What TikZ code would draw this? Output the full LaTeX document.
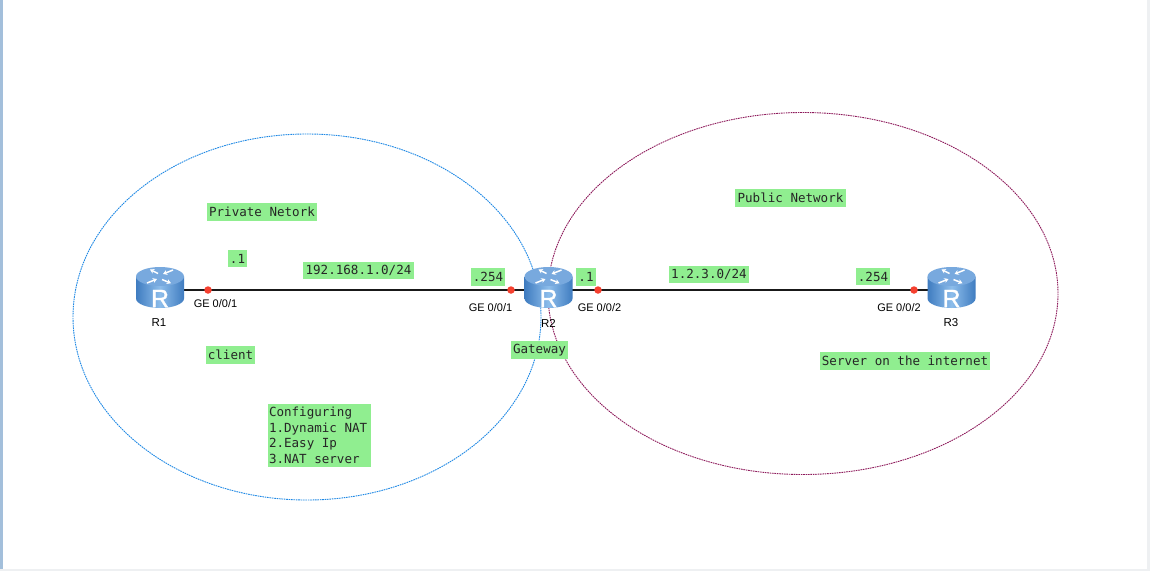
\documentclass[tikz,border=0pt]{standalone}
\usepackage{fontspec}
\setmainfont{Liberation Sans}
\newfontfamily\labelmono{DejaVu Sans Mono}
\newfontfamily\routerletterfont[FakeBold=1.2]{Liberation Sans}
\usetikzlibrary{arrows.meta}
\definecolor{tagfill}{HTML}{90EE90}
\definecolor{privline}{HTML}{1E88E5}
\definecolor{publine}{HTML}{8E1B5C}
\definecolor{edgeblue}{HTML}{A3BFDB}
\definecolor{edgegrey}{HTML}{EEF0F2}
\definecolor{routerdark}{HTML}{3F7CC0}
\definecolor{routermid}{HTML}{8DBDEB}
\definecolor{routertop}{HTML}{78A9DE}
\definecolor{dotred}{HTML}{F5402F}
\newcommand{\tagfont}{\labelmono\fontsize{12.55}{15.5}\selectfont\spaceskip=0.602em\relax}
\tikzset{
  x=1pt,y=-1pt,
  tag/.style={fill=tagfill,inner sep=0pt,font=\tagfont,text=black!85},
  portlabel/.style={inner sep=0pt,font=\fontsize{11}{13}\selectfont,text=black},
  namelabel/.style={inner sep=0pt,font=\fontsize{11.5}{13}\selectfont,text=black},
  zone/.style={line width=0.9pt,dash pattern=on 1.6pt off 0.8pt},
  link/.style={line width=2pt,black!90},
  portdot/.style={circle,fill=dotred,minimum size=7.5pt,inner sep=0pt},
  routerbox/.style={minimum width=48pt,minimum height=42pt,inner sep=0pt},
  routerarrow/.style={white,line width=1.5pt,-{Stealth[length=4.2pt,width=5pt]}},
  pics/routericon/.style={code={
    \path[left color=routerdark,right color=routerdark,middle color=routermid]
      (-24,-11.5) -- (-24,10.5) arc[start angle=180,end angle=0,x radius=24,y radius=9.5]
      -- (24,-11.5) -- cycle;
    \path[fill=routertop] (0,-11.5) ellipse[x radius=24,y radius=9.5];
    \draw[routerarrow] (-2,-14.5) -- (-10,-18.5);
    \draw[routerarrow] (13,-18) -- (3,-14);
    \draw[routerarrow] (2,-8.5) -- (11,-4.8);
    \draw[routerarrow] (-13,-5) -- (-3,-9);
    \node[inner sep=0pt,white,font=\routerletterfont\fontsize{25}{25}\selectfont] (-letter) at (0,10.5) {R};
  }}
}
\begin{document}
\begin{tikzpicture}
\useasboundingbox (0,0) rectangle (1150,571);
\fill[white] (0,0) rectangle (1150,571);
\fill[edgeblue] (0,0) rectangle (3,571);
\fill[edgegrey] (1147,0) rectangle (1150,571);
\fill[edgegrey] (0,569) rectangle (1150,571);

\node[draw=none,inner sep=0pt,minimum size=0pt] (zoneA) at (307,317) {};
\node[draw=none,inner sep=0pt,minimum size=0pt] (zoneB) at (803,293.5) {};
\draw[zone,privline] (zoneA) ellipse[x radius=234,y radius=183];
\draw[zone,publine] (zoneB) ellipse[x radius=255,y radius=181];

\node[routerbox] (r1) at (160,288) {};
\node[routerbox] (r2) at (548.5,288) {};
\node[routerbox] (r3) at (951.5,288) {};

\draw[link] (r1.center |- 0,290) -- (r2.center |- 0,290);
\draw[link] (r2.center |- 0,290) -- (r3.center |- 0,290);

\pic (r1i) at (r1) {routericon};
\pic (r2i) at (r2) {routericon};
\pic (r3i) at (r3) {routericon};

\node[portdot] (p1) at (208,290) {};
\node[portdot] (p2) at (511,290) {};
\node[portdot] (p3) at (598,290) {};
\node[portdot] (p4) at (914,290) {};

\node[portlabel] (g1) at (215.5,303.5) {GE 0/0/1};
\node[portlabel] (g2) at (490.5,308) {GE 0/0/1};
\node[portlabel] (g3) at (599.5,308) {GE 0/0/2};
\node[portlabel] (g4) at (899,308) {GE 0/0/2};

\node[namelabel] (n1) at (159,323) {R1};
\node[namelabel] (n2) at (548.5,323) {R2};
\node[namelabel] (n3) at (951,323) {R3};

\node[tag,minimum width=110pt,minimum height=18pt] (t1) at (262,212) {Private Netork};
\node[tag,minimum width=19pt,minimum height=17pt] (t2) at (237.5,258.5) {.1};
\node[tag,minimum width=111pt,minimum height=17pt] (t3) at (358.5,270.5) {192.168.1.0/24};
\node[tag,minimum width=34pt,minimum height=18pt] (t4) at (488,277) {.254};
\node[tag,minimum width=20pt,minimum height=18pt] (t5) at (586,277) {.1};
\node[tag,minimum width=80pt,minimum height=17pt] (t6) at (709,274.5) {1.2.3.0/24};
\node[tag,minimum width=34pt,minimum height=17pt] (t7) at (873,276.5) {.254};
\node[tag,minimum width=111pt,minimum height=18pt] (t8) at (790.5,198) {Public Network};
\node[tag,minimum width=170pt,minimum height=18pt] (t9) at (905,361) {Server on the internet};
\node[tag,minimum width=49pt,minimum height=18pt] (t10) at (230.5,355) {client};
\node[tag,minimum width=57pt,minimum height=18pt] (t11) at (539.5,350) {Gateway};
\node[tag,minimum width=103pt,minimum height=63pt,align=left,text width=101pt] (t12) at (319.5,435.5) {\spaceskip=0.602em\relax Configuring\\1.Dynamic NAT\\2.Easy Ip\\3.NAT server};
\end{tikzpicture}
\end{document}
